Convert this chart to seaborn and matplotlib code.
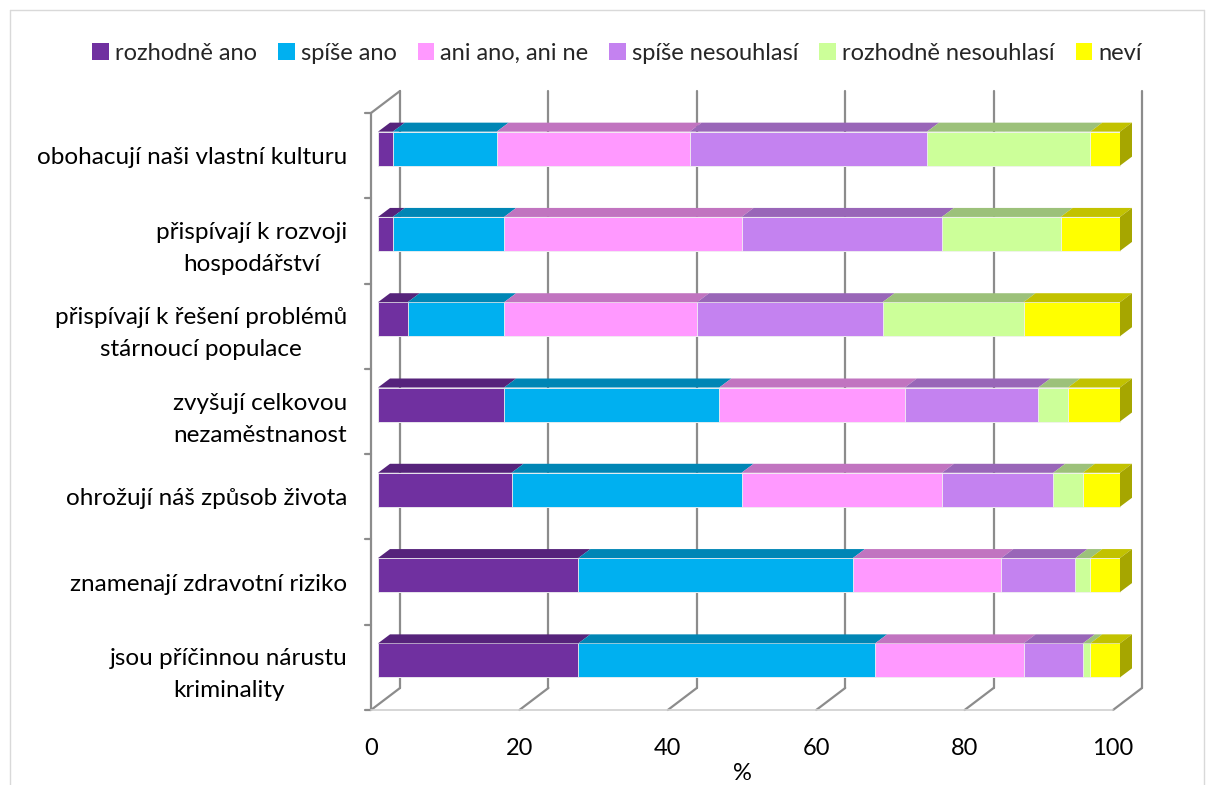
import numpy as np
import pandas as pd
import matplotlib
matplotlib.use("Agg")
import matplotlib.pyplot as plt
import seaborn as sns
from matplotlib.patches import Polygon, Patch
from matplotlib.lines import Line2D
from matplotlib.transforms import Affine2D

# ---------------- data ----------------
categories = [
    "obohacují naši vlastní kulturu",
    "přispívají k rozvoji\nhospodářství",
    "přispívají k řešení problémů\nstárnoucí populace",
    "zvyšují celkovou\nnezaměstnanost",
    "ohrožují náš způsob života",
    "znamenají zdravotní riziko",
    "jsou příčinnou nárustu\nkriminality",
]
series_names = ["rozhodně ano", "spíše ano", "ani ano, ani ne",
                "spíše nesouhlasí", "rozhodně nesouhlasí", "neví"]
rozhodne_ano = [2, 2, 4, 17, 18, 27, 27]
spise_ano = [14, 15, 13, 29, 31, 37, 40]
ani_ano_ani_ne = [26, 32, 26, 25, 27, 20, 20]
spise_nesouhlasi = [32, 27, 25, 18, 15, 10, 8]
rozhodne_nesouhlasi = [22, 16, 19, 4, 4, 2, 1]
nevi = [4, 8, 13, 7, 5, 4, 4]
x_ticks = [0, 20, 40, 60, 80, 100]

front_colors = ["#7030A0", "#00B0F0", "#FF99FF", "#C482F0", "#CCFF99", "#FFFF00"]
top_colors = ["#56237B", "#0086B5", "#C174C0", "#9966B8", "#9CC17A", "#C2C200"]
side_color = "#A6A600"

values = np.array([rozhodne_ano, spise_ano, ani_ano_ani_ne,
                   spise_nesouhlasi, rozhodne_nesouhlasi, nevi], dtype=float)
cum = np.cumsum(values, axis=0)
df = pd.DataFrame({"cat": categories})
for k in range(len(series_names)):
    df[f"cum{k}"] = cum[k]

# ---------------- figure ----------------
sns.set_theme(style="white")
plt.rcParams["font.family"] = ["Lato", "DejaVu Sans"]
FS = 17

W, H, DPI = 1207, 785, 100
fig = plt.figure(figsize=(W / DPI, H / DPI), dpi=DPI)
ax_l, ax_r, ax_t, ax_b = 371, 1113, 113, 710
ax = fig.add_axes([ax_l / W, 1 - ax_b / H, (ax_r - ax_l) / W, (ax_b - ax_t) / H])

n = len(categories)
XMAX = 100.0
pxx = (ax_r - ax_l) / XMAX          # px per x unit
pxy = (ax_b - ax_t) / n             # px per category


def dx(px):
    return px / pxx


def dy(px):  # upward pixel shift -> data (y inverted)
    return -px / pxy


bar_h = 34 / pxy
box, boy = dx(7), dy(7)      # bar plane offset from front wall
bdx, bdy = dx(12), dy(9)     # bar depth
wdx, wdy = dx(29), dy(22)    # wall depth

# stacked bars via seaborn (cumulative totals, widest first)
for k in reversed(range(len(series_names))):
    sns.barplot(data=df, y="cat", x=f"cum{k}", orient="h", color=front_colors[k],
                width=bar_h, saturation=1, ax=ax, edgecolor="#f2f2f2",
                linewidth=0.6, zorder=3)

shift = Affine2D().translate(box, boy) + ax.transData
for p in ax.patches:
    p.set_transform(shift)
    p.set_clip_on(False)

# 3D top faces and right side
for i in range(n):
    ytop = i - bar_h / 2
    ybot = i + bar_h / 2
    for k in range(len(series_names)):
        x0 = cum[k - 1][i] if k > 0 else 0.0
        x1 = cum[k][i]
        if x1 - x0 <= 0:
            continue
        pts = [(x0, ytop), (x1, ytop), (x1 + bdx, ytop + bdy), (x0 + bdx, ytop + bdy)]
        ax.add_patch(Polygon(pts, closed=True, facecolor=top_colors[k],
                             edgecolor="none", transform=shift, zorder=3, clip_on=False))
    xe = cum[-1][i]
    pts = [(xe, ytop), (xe, ybot), (xe + bdx, ybot + bdy), (xe + bdx, ytop + bdy)]
    ax.add_patch(Polygon(pts, closed=True, facecolor=side_color, edgecolor="none",
                         transform=shift, zorder=3, clip_on=False))

# ---------------- walls / grid ----------------
gcol = "#8C8C8C"
glw = 1.6
ylo, yhi = -0.5, n - 0.5
for v in x_ticks:
    ax.add_line(Line2D([v + wdx, v + wdx], [yhi + wdy, ylo + wdy], color=gcol, lw=glw,
                       zorder=1, clip_on=False))
    ax.add_line(Line2D([v, v + wdx], [yhi, yhi + wdy], color=gcol, lw=glw,
                       zorder=1, clip_on=False))
ax.add_line(Line2D([0, 0], [ylo, yhi], color=gcol, lw=glw, zorder=1, clip_on=False))
ax.add_line(Line2D([0, wdx], [ylo, ylo + wdy], color=gcol, lw=glw, zorder=1, clip_on=False))
for b in np.arange(ylo, yhi + 0.01, 1.0):
    ax.add_line(Line2D([dx(-6), 0], [b, b], color=gcol, lw=glw, zorder=1, clip_on=False))
ax.add_line(Line2D([0, XMAX], [yhi, yhi], color="#D0D0D0", lw=1.2, zorder=1, clip_on=False))

ax.set_xlim(0, XMAX)
ax.set_ylim(yhi, ylo)
for s in ax.spines.values():
    s.set_visible(False)
ax.grid(False)
ax.set_xticks(x_ticks)
ax.set_xticklabels([str(t) for t in x_ticks], fontsize=FS, color="black")
ax.set_yticks(range(n))
ax.set_yticklabels(categories, fontsize=17.5, color="black", linespacing=1.65,
                   multialignment="center")
ax.tick_params(axis="x", length=0, pad=20)
ax.tick_params(axis="y", length=0, pad=17)
ax.set_xlabel("%", fontsize=FS, labelpad=3, color="black")
ax.set_ylabel("")

# legend
handles = [Patch(facecolor=c, edgecolor="none") for c in front_colors]
fig.legend(handles, series_names, loc="center", bbox_to_anchor=(617 / W, 1 - 53 / H),
           ncol=6, frameon=False, fontsize=FS, handlelength=0.7, handleheight=0.7,
           handletextpad=0.25, columnspacing=0.9)

# chart border
bc = "#D9D9D9"
fig.add_artist(Line2D([10 / W, 10 / W], [0, 1 - 10 / H], transform=fig.transFigure, color=bc, lw=1))
fig.add_artist(Line2D([10 / W, 1204 / W], [1 - 10 / H, 1 - 10 / H], transform=fig.transFigure, color=bc, lw=1))
fig.add_artist(Line2D([1204 / W, 1204 / W], [1 - 10 / H, 0], transform=fig.transFigure, color=bc, lw=1))

fig.savefig("out.png", dpi=DPI, facecolor="white")
